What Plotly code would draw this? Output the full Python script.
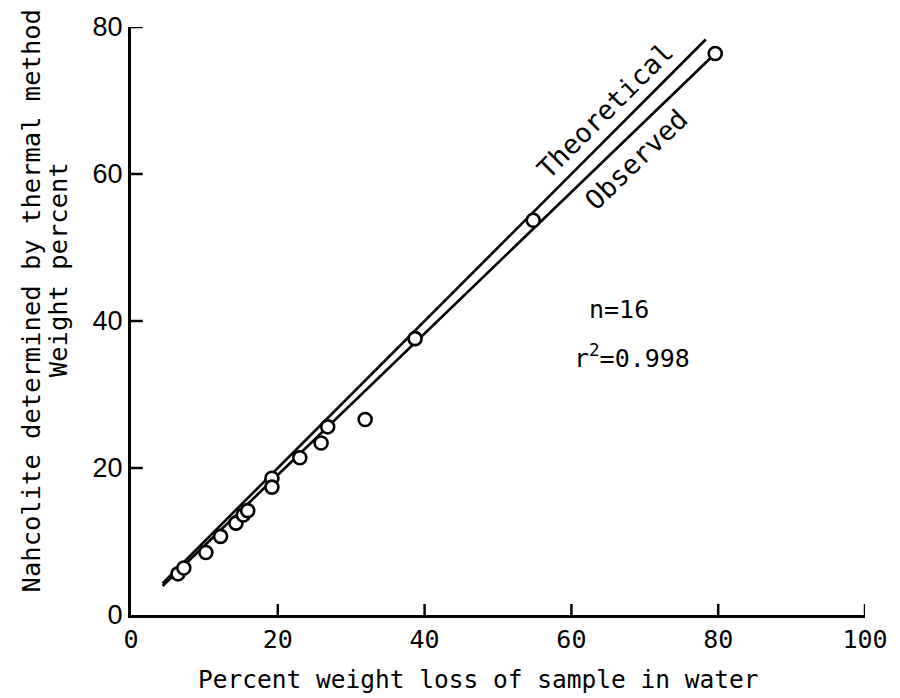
import plotly.graph_objects as go

# Observed data points (percent weight loss in water, nahcolite by thermal method)
loss_pct = [6.4, 7.2, 10.2, 12.2, 14.3, 15.3, 15.9, 19.2, 19.2, 23.0, 25.9, 26.8, 31.9, 38.7, 54.8, 79.6]
nahcolite_pct = [5.6, 6.4, 8.5, 10.7, 12.5, 13.6, 14.2, 18.6, 17.4, 21.4, 23.4, 25.6, 26.6, 37.6, 53.7, 76.4]

# Line end points
theo_x = [4.3, 78.3]
theo_y = [4.3, 78.3]
obs_x = [4.3, 79.6]
obs_y = [3.95, 76.4]

x_ticks = [0, 20, 40, 60, 80, 100]
y_ticks = [0, 20, 40, 60, 80]

MONO = "DejaVu Sans Mono"
XTICK_LEN = 1.5   # inward tick length in y-data units (~11 px)
YTICK_LEN = 1.6   # inward tick length in x-data units (~12 px)

fig = go.Figure()
fig.add_trace(go.Scatter(x=theo_x, y=theo_y, mode="lines",
                         line=dict(color="black", width=2.6), showlegend=False))
fig.add_trace(go.Scatter(x=obs_x, y=obs_y, mode="lines",
                         line=dict(color="black", width=2.6), showlegend=False))
fig.add_trace(go.Scatter(x=loss_pct, y=nahcolite_pct, mode="markers",
                         marker=dict(symbol="circle", size=13, color="white",
                                     line=dict(color="black", width=2.6)),
                         showlegend=False, cliponaxis=False))

# Inward tick marks built from the tick arrays
tx, ty = [], []
for v in x_ticks[1:]:
    tx += [v, v, None]
    ty += [0, XTICK_LEN, None]
for v in y_ticks[1:]:
    tx += [0, YTICK_LEN, None]
    ty += [v, v, None]
fig.add_trace(go.Scatter(x=tx, y=ty, mode="lines", line=dict(color="black", width=2.5),
                         showlegend=False, hoverinfo="skip", cliponaxis=False))

fig.update_layout(
    width=900, height=698,
    margin=dict(l=131, r=25, t=25, b=83),
    paper_bgcolor="white", plot_bgcolor="white",
    xaxis=dict(range=[0, 100], tickmode="array", tickvals=x_ticks,
               ticktext=[str(v) for v in x_ticks],
               showgrid=False, zeroline=False, showline=True, linecolor="black",
               linewidth=3, ticks="", showticklabels=True,
               tickfont=dict(family=MONO, size=25, color="black")),
    yaxis=dict(range=[0, 80], tickmode="array", tickvals=y_ticks,
               ticktext=[str(v) for v in y_ticks],
               showgrid=False, zeroline=False, showline=True, linecolor="black",
               linewidth=3, ticks="", showticklabels=True,
               tickfont=dict(family="Liberation Sans", size=27, color="black")),
)

fig.add_annotation(text="Percent weight loss of sample in water", xref="paper", yref="paper",
                   x=(483 - 131) / 744, y=(615 - 680) / 590, xanchor="center", yanchor="middle",
                   showarrow=False, font=dict(family=MONO, size=24.5, color="black"))
fig.add_annotation(text="Nahcolite determined by thermal method",
                   xref="paper", yref="paper", x=(30 - 131) / 744, y=(615 - 300) / 590,
                   xanchor="center", yanchor="middle",
                   textangle=-90, showarrow=False,
                   font=dict(family=MONO, size=25.5, color="black"))
fig.add_annotation(text="Weight percent",
                   xref="paper", yref="paper", x=(57 - 131) / 744, y=(615 - 268) / 590,
                   xanchor="center", yanchor="middle",
                   textangle=-90, showarrow=False,
                   font=dict(family=MONO, size=25.5, color="black"))
fig.add_annotation(text="Theoretical", x=64.6, y=68.6, textangle=-45, showarrow=False,
                   font=dict(family=MONO, size=27, color="black"))
fig.add_annotation(text="Observed", x=68.8, y=62.0, textangle=-44, showarrow=False,
                   font=dict(family=MONO, size=27, color="black"))
fig.add_annotation(text="n=16", x=62.1, y=41.5, xanchor="left", showarrow=False,
                   font=dict(family=MONO, size=25, color="black"))
fig.add_annotation(text="r<sup>2</sup>=0.998", x=60.1, y=35.2, xanchor="left", showarrow=False,
                   font=dict(family=MONO, size=25, color="black"))

fig.write_html("out.html")
